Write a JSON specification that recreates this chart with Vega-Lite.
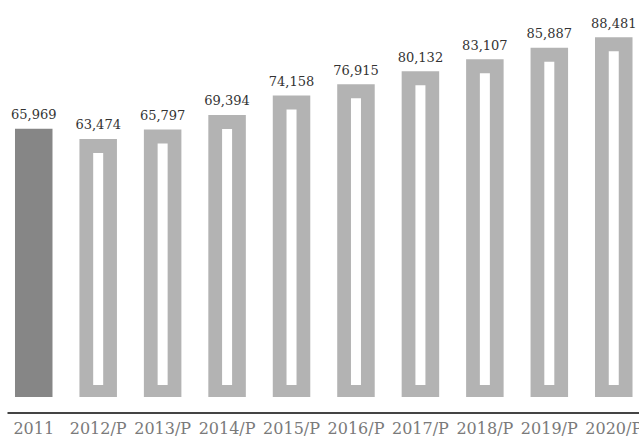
{
  "$schema": "https://vega.github.io/schema/vega-lite/v6.json",
  "autosize": "none",
  "padding": {"left": 7, "top": 0, "right": 0, "bottom": 47},
  "width": 633.5,
  "height": 397,
  "background": "white",
  "config": {"view": {"stroke": null}},
  "data": {
    "values": [
      {"year": "2011", "value": 65969, "type": "actual"},
      {"year": "2012/P", "value": 63474, "type": "projected"},
      {"year": "2013/P", "value": 65797, "type": "projected"},
      {"year": "2014/P", "value": 69394, "type": "projected"},
      {"year": "2015/P", "value": 74158, "type": "projected"},
      {"year": "2016/P", "value": 76915, "type": "projected"},
      {"year": "2017/P", "value": 80132, "type": "projected"},
      {"year": "2018/P", "value": 83107, "type": "projected"},
      {"year": "2019/P", "value": 85887, "type": "projected"},
      {"year": "2020/P", "value": 88481, "type": "projected"}
    ]
  },
  "encoding": {
    "x": {
      "field": "year",
      "type": "ordinal",
      "sort": null,
      "scale": {"paddingInner": 0.418, "paddingOuter": 0.124},
      "axis": {
        "title": null,
        "labelAngle": 0,
        "domainColor": "#444444",
        "domainWidth": 2,
        "ticks": false,
        "tickSize": 0,
        "offset": 15.5,
        "labelPadding": 21,
        "labelBaseline": "alphabetic",
        "labelFont": "DejaVu Serif",
        "labelFontSize": 16,
        "labelColor": "#7a7a7a"
      }
    },
    "y": {
      "field": "value",
      "type": "quantitative",
      "scale": {"domain": [0, 97650], "nice": false},
      "axis": null
    }
  },
  "layer": [
    {
      "mark": {"type": "bar"},
      "encoding": {
        "color": {
          "field": "type",
          "type": "nominal",
          "scale": {"domain": ["actual", "projected"], "range": ["#868686", "#b3b3b3"]},
          "legend": null
        }
      }
    },
    {
      "transform": [{"filter": "datum.type == 'projected'"}],
      "mark": {"type": "bar", "width": 10, "yOffset": 14, "y2Offset": -12, "color": "#ffffff"},
      "encoding": {
        "y2": {"datum": 0}
      }
    },
    {
      "mark": {
        "type": "text",
        "dy": -13.5,
        "baseline": "middle",
        "font": "DejaVu Serif",
        "fontSize": 13,
        "color": "#333333"
      },
      "encoding": {
        "text": {"field": "value", "type": "quantitative", "format": ","}
      }
    }
  ]
}
